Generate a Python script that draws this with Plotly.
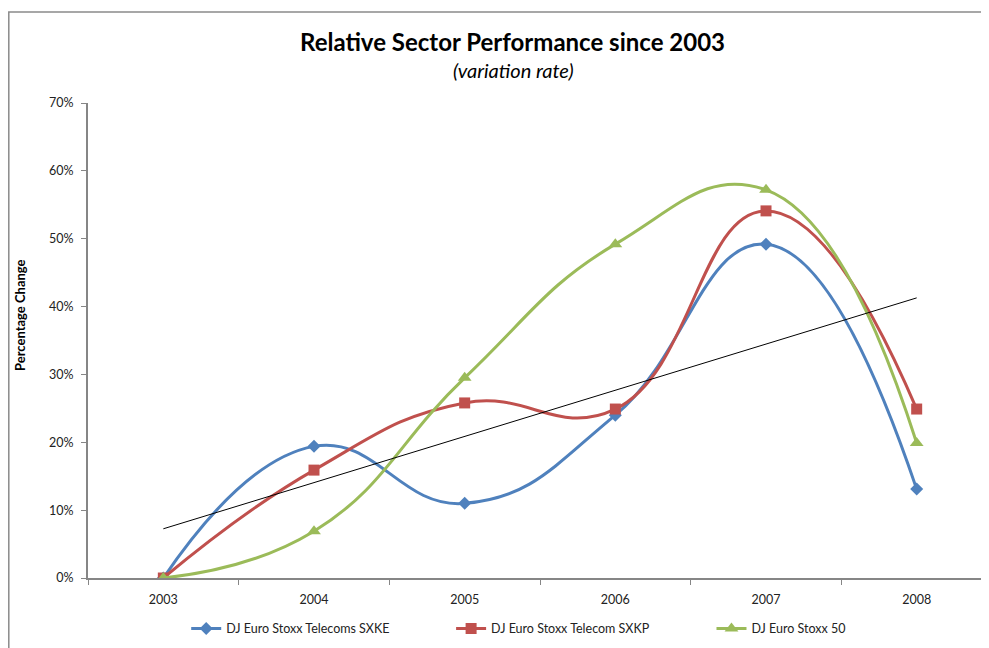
import numpy as np
import plotly.graph_objects as go

years = ["2003", "2004", "2005", "2006", "2007", "2008"]
sxke = [0.0, 0.194, 0.110, 0.240, 0.492, 0.131]
sxkp = [0.0, 0.159, 0.258, 0.249, 0.541, 0.249]
stoxx50 = [0.0, 0.069, 0.295, 0.492, 0.572, 0.199]
y_ticks = [0, 0.1, 0.2, 0.3, 0.4, 0.5, 0.6, 0.7]
y_tick_labels = ["0%", "10%", "20%", "30%", "40%", "50%", "60%", "70%"]

FONT = "Lato"
fig = go.Figure()

series = [
    ("DJ Euro Stoxx Telecoms SXKE", sxke, "#4F81BD", "diamond", 10, "legend", 0.109),
    ("DJ Euro Stoxx Telecom SXKP", sxkp, "#C0504D", "square", 11, "legend2", 0.403),
    ("DJ Euro Stoxx 50", stoxx50, "#9BBB59", "triangle-up", 12, "legend3", 0.692),
]
for name, vals, col, sym, sz, lg, _ in series:
    fig.add_trace(go.Scatter(
        x=years, y=vals, name=name, mode="lines+markers", legend=lg,
        line=dict(color=col, width=3, shape="spline", smoothing=1.3),
        marker=dict(symbol=sym, size=sz, color=col),
    ))

# linear trend line on SXKP series
idx = np.arange(len(years))
slope, icpt = np.polyfit(idx, sxkp, 1)
fig.add_trace(go.Scatter(
    x=[years[0], years[-1]], y=[icpt, icpt + slope * idx[-1]],
    mode="lines", line=dict(color="black", width=1), showlegend=False,
    hoverinfo="skip",
))

legend_common = dict(orientation="h", xanchor="left", y=-0.107, yanchor="middle",
                     font=dict(size=12.5, color="#222", family=FONT),
                     bgcolor="rgba(0,0,0,0)", borderwidth=0)
legends = {}
for i, (_, _, _, _, _, lg, lx) in enumerate(series):
    legends[lg] = dict(legend_common, x=lx)

fig.update_layout(
    width=981, height=640,
    margin=dict(l=80, r=0, t=95, b=70),
    paper_bgcolor="white", plot_bgcolor="white",
    font=dict(family=FONT, size=12.5, color="#222"),
    showlegend=True,
    **legends,
    xaxis=dict(type="category", range=[-0.5, 5.48], showgrid=False,
               showline=True, linecolor="#868686", linewidth=2,
               ticks="outside", tickson="boundaries", ticklen=5, tickcolor="#868686",
               ticklabelstandoff=9,
               tickfont=dict(size=12.5, color="#222"), zeroline=False),
    yaxis=dict(range=[0, 0.7], tickvals=y_ticks, ticktext=y_tick_labels,
               showgrid=False, showline=True, linecolor="#868686", linewidth=2,
               ticks="outside", ticklen=5, tickcolor="#868686",
               ticklabelstandoff=5,
               tickfont=dict(size=12.5, color="#222"), zeroline=False),
    annotations=[
        dict(text="<b>Relative Sector Performance since 2003</b>", xref="paper", yref="paper",
             x=(512 - 88) / 901, y=(578 - 42) / 475, showarrow=False,
             font=dict(size=24, color="black", family=FONT), xanchor="center", yanchor="middle"),
        dict(text="<i>(variation rate)</i>", xref="paper", yref="paper",
             x=(513 - 88) / 901, y=(578 - 70) / 475, showarrow=False,
             font=dict(size=20, color="black", family=FONT), xanchor="center", yanchor="middle"),
        dict(text="<b>Percentage Change</b>", xref="paper", yref="paper",
             x=(20 - 88) / 901, y=(578 - 315) / 475, showarrow=False, textangle=-90,
             font=dict(size=13, color="black", family=FONT), xanchor="center", yanchor="middle"),
    ],
    shapes=[
        dict(type="rect", xref="paper", yref="paper",
             x0=(8.8 - 88) / 901, x1=1.05, y0=-0.3, y1=(578 - 12) / 475,
             line=dict(color="#8a8a8a", width=1.5), fillcolor="rgba(0,0,0,0)", layer="below"),
    ],
)

fig.write_html("out.html")
